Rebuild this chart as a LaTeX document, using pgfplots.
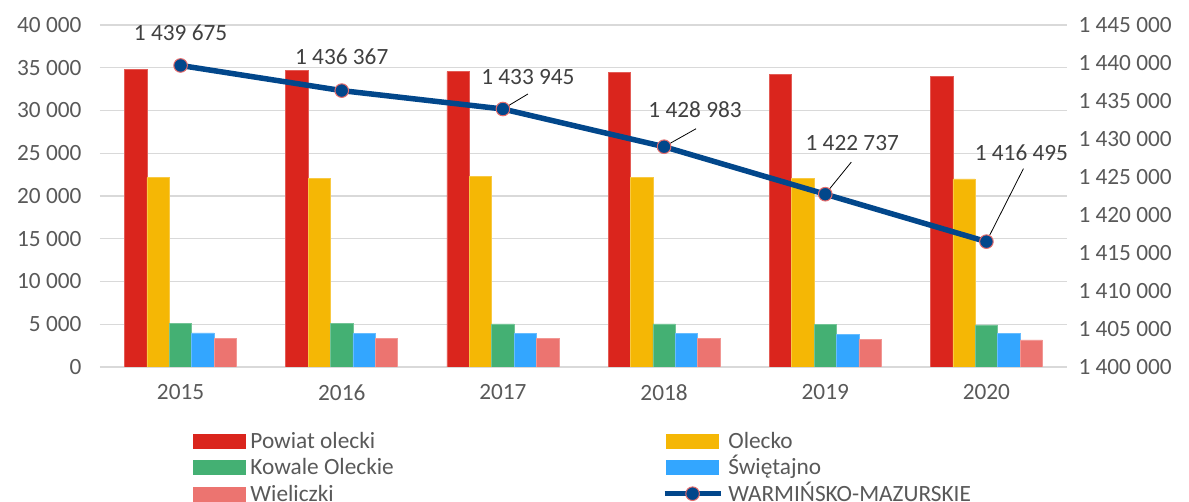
\documentclass[border=0pt]{standalone}
\usepackage{fontspec}
\setmainfont{Carlito}
\usepackage{pgfplots}
\usepackage{pgfplotstable}
\pgfplotsset{compat=1.18}

\definecolor{cred}{HTML}{DA251D}
\definecolor{cyel}{HTML}{F5B705}
\definecolor{cgrn}{HTML}{44B073}
\definecolor{cblu}{HTML}{33A6FF}
\definecolor{cpnk}{HTML}{EC7470}
\definecolor{cline}{HTML}{02478B}
\definecolor{cmark}{HTML}{E56B6B}
\definecolor{cgrid}{HTML}{D9D9D9}
\definecolor{ctxt}{HTML}{595959}
\definecolor{clab}{HTML}{404040}

% bars: year index, value
\pgfplotstableread{
x powiat olecko kowale swietajno wieliczki
0 34800 22140 5110 3990 3330
1 34650 22100 5080 3950 3330
2 34550 22250 5030 3920 3330
3 34450 22200 5040 3920 3360
4 34200 22100 4960 3840 3240
5 34000 22000 4920 3900 3160
}\bars

% line: value, label offset (pt)
\pgfplotstableread{
x y dx dy
0 1439675 0 33
1 1436367 0 34
2 1433945 25 32
3 1428983 31 37
4 1422737 27 51
5 1416495 35 89
}\woj

\pgfplotsset{
  common/.style={
    width=967pt, height=342pt, scale only axis,
    xmin=-0.5, xmax=5.5,
    major tick length=0pt,
    tick label style={font=\fontsize{23.3}{27}\selectfont, text=ctxt},
    /pgf/number format/.cd, fixed, precision=0, assume math mode=true, 1000 sep={\ }, /pgfplots/.cd,
    scaled y ticks=false,
  },
  sw/.style={legend image code/.code={\fill[#1] (0pt,-7pt) rectangle (52pt,7pt);}},
}

\begin{document}
\begin{tikzpicture}
\begin{axis}[common,
  ymin=0, ymax=40000, ytick distance=5000,
  xtick={0,...,5}, xticklabels={2015,2016,2017,2018,2019,2020},
  xticklabel style={yshift=-14pt},
  yticklabel style={xshift=-15pt},
  axis x line*=bottom, axis y line*=left,
  x axis line style={draw=cgrid, line width=1.5pt, -},
  y axis line style={draw=none},
  ymajorgrids, grid style={cgrid, line width=1.2pt},
  ybar=0pt, bar width=22.4pt,
  every axis plot/.append style={line width=0.6pt},
]
\coordinate (bl) at (rel axis cs:0,0);
\addplot[fill=cred, draw=cred!75!white] table[x=x, y=powiat] {\bars};
\addplot[fill=cyel, draw=cyel!75!white] table[x=x, y=olecko] {\bars};
\addplot[fill=cgrn, draw=cgrn!75!white] table[x=x, y=kowale] {\bars};
\addplot[fill=cblu, draw=cblu!75!white] table[x=x, y=swietajno] {\bars};
\addplot[fill=cpnk, draw=cpnk!75!white] table[x=x, y=wieliczki] {\bars};
\end{axis}

\begin{axis}[common,
  ymin=1400000, ymax=1445000, ytick distance=5000,
  axis x line=none,
  axis y line*=right, y axis line style={draw=none},
  yticklabel style={xshift=8pt},
  legend columns=2,
  legend style={at={(0.0962,-0.1775)}, anchor=north west, draw=none,
    inner sep=0pt, outer sep=0pt, column sep=0pt,
    font=\fontsize{23.3}{27}\selectfont, text=ctxt,
    nodes={inner xsep=5pt, inner ysep=5.7pt, text height=15pt, text depth=0pt, anchor=west},
    /tikz/every even column/.append style={column sep=263pt}},
  legend cell align=left,
]
\addlegendimage{sw=cred}\addlegendentry{Powiat olecki}
\addlegendimage{sw=cyel}\addlegendentry{Olecko}
\addlegendimage{sw=cgrn}\addlegendentry{Kowale Oleckie}
\addlegendimage{sw=cblu}\addlegendentry{Świętajno}
\addlegendimage{sw=cpnk}\addlegendentry{Wieliczki}
\addplot[cline, line width=5.5pt, mark=*, mark size=6.8pt,
  mark options={fill=cline, draw=cmark, line width=1pt},
  legend image code/.code={
    \draw[cline, line width=5.5pt] (-2pt,0pt) -- (54pt,0pt);
    \filldraw[fill=cline, draw=cmark, line width=1pt] (26pt,0pt) circle (6.8pt);},
  point meta=explicit symbolic,
  visualization depends on={\thisrow{dx} \as \dx},
  visualization depends on={\thisrow{dy} \as \dy},
  nodes near coords={\pgfmathprintnumber[fixed, precision=0, 1000 sep={\ }]{\pgfplotspointmeta}},
  nodes near coords style={anchor=center, xshift=\dx pt, yshift=\dy pt,
    font=\fontsize{23.3}{27}\selectfont, text=clab, inner sep=0pt},
] table[x=x, y=y, meta=y] {\woj};
\addlegendentry{WARMIŃSKO-MAZURSKIE}
\draw[black, line width=0.8pt] (axis cs:2,1433945) -- ++(25pt,15pt);
\draw[black, line width=0.8pt] (axis cs:3,1428983) -- ++(32pt,18pt);
\draw[black, line width=0.8pt] (axis cs:4,1422737) -- ++(26pt,32pt);
\draw[black, line width=0.8pt] (axis cs:5,1416495) -- ++(37pt,73pt);
\end{axis}
\pgfresetboundingbox
\path (bl) ++(-100pt,-135pt) rectangle ++(1189pt,502pt);
\end{tikzpicture}
\end{document}
